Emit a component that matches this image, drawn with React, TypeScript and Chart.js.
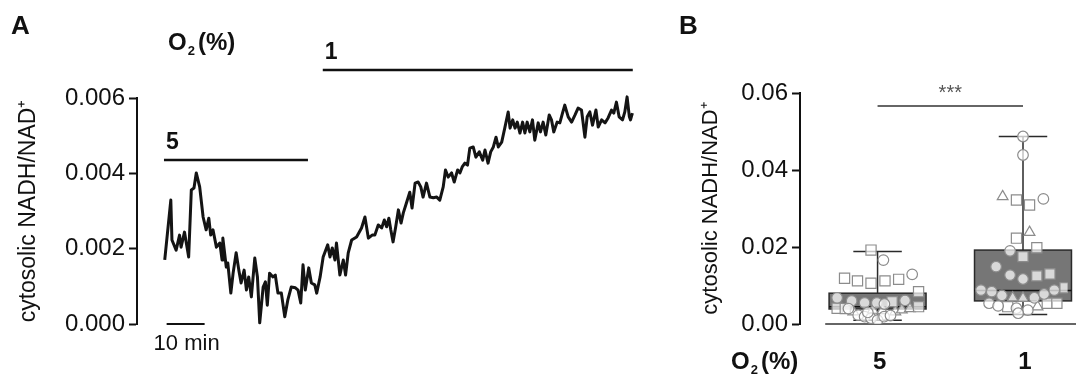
import React, { useEffect, useRef } from 'react';
import { Chart, registerables } from 'chart.js';

Chart.register(...registerables);

const FONT = '"Liberation Sans", Arial, Helvetica, sans-serif';
const INK = '#111111';

// ---------- Panel A: cytosolic NADH/NAD+ trace ----------
const traceMinutes = [
  0.2, 1.8, 2.1, 3.2, 4.1, 4.5, 5.4, 6.5, 7.2, 7.9,
  8.5, 9.4, 10.3, 11.1, 11.8, 12.3, 12.9, 13.8, 14.7, 15.3,
  15.5, 16.4, 16.8, 17.6, 18.2, 19.0, 19.7, 20.3, 21.1, 21.7,
  22.3, 23.0, 23.9, 24.6, 25.2, 26.1, 26.7, 27.2, 27.8, 28.7,
  29.3, 30.0, 30.9, 31.8, 32.6, 33.5, 34.6, 35.3, 36.0, 36.6,
  37.2, 38.1, 38.8, 39.7, 40.2, 41.1, 41.9, 43.1, 43.7, 44.3,
  45.0, 45.4, 46.3, 47.2, 47.8, 48.5, 49.4, 50.7, 52.0, 52.9,
  53.8, 54.8, 55.5, 56.4, 57.3, 58.0, 58.6, 59.2, 59.7, 60.3,
  61.0, 61.7, 62.4, 63.0, 63.9, 64.7, 65.3, 66.1, 66.9, 67.6,
  68.2, 69.1, 70.0, 70.9, 71.8, 72.6, 73.5, 74.1, 74.8, 75.7,
  76.4, 77.3, 77.9, 78.5, 79.2, 79.9, 80.5, 81.4, 82.1, 83.0,
  83.9, 84.5, 85.3, 86.0, 86.7, 87.4, 88.0, 88.9, 89.7, 90.6,
  91.1, 91.8, 92.4, 93.0, 93.7, 94.4, 95.0, 95.6, 96.3, 97.0,
  97.6, 98.5, 99.1, 99.8, 100.5, 101.4, 102.0, 102.6, 103.5, 104.2,
  104.9, 105.5, 106.4, 107.3, 108.2, 109.0, 109.9, 110.8, 111.4, 112.1,
  112.8, 113.7, 114.3, 115.2, 116.1, 116.9, 117.8, 118.4, 119.1, 119.8,
  120.7, 121.3, 121.9, 122.5, 122.8, 123.3,
];

const traceRatio = [
  0.00170, 0.00329, 0.00223, 0.00196, 0.00236, 0.00204, 0.00244, 0.00178, 0.00356, 0.00361,
  0.00401, 0.00364, 0.00284, 0.00250, 0.00281, 0.00236, 0.00250, 0.00204, 0.00215, 0.00170,
  0.00228, 0.00151, 0.00162, 0.00082, 0.00135, 0.00189, 0.00143, 0.00109, 0.00143, 0.00090,
  0.00125, 0.00072, 0.00175, 0.00125, 0.00003, 0.00098, 0.00112, 0.00050, 0.00135, 0.00125,
  0.00130, 0.00082, 0.00082, 0.00019, 0.00064, 0.00098, 0.00096, 0.00090, 0.00056, 0.00157,
  0.00090, 0.00149, 0.00109, 0.00104, 0.00082, 0.00125, 0.00178, 0.00210, 0.00178, 0.00202,
  0.00170, 0.00215, 0.00130, 0.00170, 0.00130, 0.00189, 0.00223, 0.00231, 0.00255, 0.00284,
  0.00228, 0.00236, 0.00236, 0.00263, 0.00255, 0.00276, 0.00258, 0.00281, 0.00250, 0.00218,
  0.00258, 0.00303, 0.00268, 0.00295, 0.00324, 0.00350, 0.00308, 0.00374, 0.00377, 0.00364,
  0.00337, 0.00374, 0.00337, 0.00335, 0.00337, 0.00329, 0.00364, 0.00409, 0.00390, 0.00401,
  0.00377, 0.00409, 0.00401, 0.00417, 0.00427, 0.00422, 0.00467, 0.00470, 0.00443, 0.00457,
  0.00435, 0.00462, 0.00427, 0.00457, 0.00470, 0.00496, 0.00470, 0.00483, 0.00520, 0.00563,
  0.00520, 0.00542, 0.00520, 0.00536, 0.00507, 0.00536, 0.00507, 0.00536, 0.00510, 0.00542,
  0.00488, 0.00534, 0.00510, 0.00536, 0.00502, 0.00555, 0.00542, 0.00510, 0.00536, 0.00534,
  0.00560, 0.00581, 0.00550, 0.00536, 0.00555, 0.00573, 0.00568, 0.00496, 0.00550, 0.00563,
  0.00528, 0.00568, 0.00523, 0.00542, 0.00534, 0.00547, 0.00568, 0.00560, 0.00589, 0.00550,
  0.00542, 0.00563, 0.00603, 0.00550, 0.00542, 0.00560,
];

const o2Levels = ['5', '1'];
const o2PeriodStart = [0, 41.8];
const o2PeriodEnd = [37.9, 123.4];
const scaleBarMinutes = 10;

// ---------- Panel B: box plot ----------
const categories = ['5', '1'];
const boxQ1 = [0.0039, 0.0060];
const boxMedian = [0.0045, 0.0087];
const boxQ3 = [0.0080, 0.0192];
const whiskerLow = [0.0010, 0.0025];
const whiskerHigh = [0.0188, 0.0487];

// [jitter (category units), value]
const circles5 = [
  [0.04, 0.0166], [0.238, 0.0129], [-0.278, 0.0068], [-0.178, 0.0060], [-0.089, 0.0055],
  [-0.005, 0.0055], [0.047, 0.0052], [0.189, 0.0061], [-0.2, 0.0040], [-0.133, 0.0023],
  [-0.089, 0.0019], [-0.045, 0.0015], [0, 0.0010], [0.045, 0.0019], [0.089, 0.0022],
  [-0.067, 0.0030],
];
const squares5 = [
  [-0.045, 0.0192], [-0.227, 0.0119], [-0.138, 0.0112], [-0.045, 0.0106], [0.051, 0.0112],
  [0.145, 0.0116], [0.282, 0.0084], [0.1, 0.0058], [-0.278, 0.0041], [0.282, 0.0045],
  [-0.222, 0.0040],
];
const triangles5 = [
  [-0.167, 0.0032], [-0.033, 0.0036], [0.033, 0.0035], [0.122, 0.0032], [0.167, 0.0037],
  [0.222, 0.0040],
];
const circles1 = [
  [0, 0.0487], [0, 0.0439], [0.14, 0.0325], [-0.089, 0.0190], [-0.185, 0.0149],
  [-0.089, 0.0127], [0, 0.0117], [-0.289, 0.0088], [-0.215, 0.0084], [-0.145, 0.0074],
  [0.078, 0.0068], [0.145, 0.0078], [0.215, 0.0088], [-0.233, 0.0054], [-0.171, 0.0047],
  [-0.045, 0.0041], [0.033, 0.0036], [-0.033, 0.0028],
];
const squares1 = [
  [-0.045, 0.0322], [0.045, 0.0309], [-0.045, 0.0223], [0.095, 0.0198], [0, 0.0175],
  [0.095, 0.0125], [0.185, 0.0130], [0.289, 0.0094], [-0.105, 0.0045], [0.167, 0.0054],
  [0.233, 0.0054],
];
const triangles1 = [
  [-0.14, 0.0331], [0.045, 0.0238], [-0.071, 0.0068], [0, 0.0067], [0.1, 0.0045],
];
const significance = '***';

function drawO2(ctx: CanvasRenderingContext2D, x: number, base: number, size: number) {
  ctx.textAlign = 'left';
  ctx.textBaseline = 'alphabetic';
  ctx.font = `bold ${size}px ${FONT}`;
  ctx.fillText('O', x, base);
  const w = ctx.measureText('O').width;
  const sub = Math.round(size * 0.55);
  ctx.font = `bold ${sub}px ${FONT}`;
  ctx.fillText('2', x + w + 1, base + size * 0.22);
  const w2 = ctx.measureText('2').width;
  ctx.font = `bold ${size}px ${FONT}`;
  ctx.fillText('(%)', x + w + w2 + 4, base);
}

function PanelA() {
  const ref = useRef<HTMLCanvasElement>(null);
  useEffect(() => {
    const canvas = ref.current;
    if (!canvas) return;
    const annot = {
      id: 'annotA',
      afterDraw(chart: any) {
        const { ctx, chartArea, scales } = chart;
        const xs = scales.x;
        const ys = scales.y;
        ctx.save();
        ctx.fillStyle = INK;
        ctx.strokeStyle = INK;
        ctx.textBaseline = 'alphabetic';
        ctx.textAlign = 'left';
        ctx.font = `bold 26px ${FONT}`;
        ctx.fillText('A', 11, 34);
        drawO2(ctx, 168, 50, 24);
        const levels = [chartArea.top + 62, chartArea.top - 28];
        o2Levels.forEach((lab, i) => {
          const x0 = xs.getPixelForValue(o2PeriodStart[i]);
          const x1 = xs.getPixelForValue(o2PeriodEnd[i]);
          ctx.lineWidth = 2.5;
          ctx.beginPath();
          ctx.moveTo(x0, levels[i]);
          ctx.lineTo(x1, levels[i]);
          ctx.stroke();
          ctx.font = `bold 23px ${FONT}`;
          ctx.textAlign = 'left';
          ctx.fillText(lab, x0 + 2, levels[i] - 11);
        });
        const sb0 = xs.getPixelForValue(0.7);
        const sb1 = xs.getPixelForValue(0.7 + scaleBarMinutes);
        const sy = ys.getPixelForValue(0);
        ctx.lineWidth = 2;
        ctx.beginPath();
        ctx.moveTo(sb0, sy);
        ctx.lineTo(sb1, sy);
        ctx.stroke();
        ctx.font = `22px ${FONT}`;
        ctx.textAlign = 'center';
        ctx.fillText(`${scaleBarMinutes} min`, (sb0 + sb1) / 2 + 1, sy + 26);
        ctx.restore();
      },
    };
    const chart = new Chart(canvas, {
      type: 'line',
      data: {
        datasets: [
          {
            data: traceMinutes.map((t, i) => ({ x: t, y: traceRatio[i] })),
            borderColor: '#141414',
            borderWidth: 3,
            borderJoinStyle: 'round',
            pointRadius: 0,
            tension: 0,
            fill: false,
            clip: 6,
          },
        ],
      },
      options: {
        responsive: false,
        animation: false,
        events: [],
        layout: { padding: { left: 0, right: 20, top: 98, bottom: 55 } },
        plugins: { legend: { display: false }, tooltip: { enabled: false } },
        scales: {
          x: { type: 'linear', display: false, min: -7.1, max: 125.3 },
          y: {
            min: 0,
            max: 0.006,
            ticks: {
              stepSize: 0.002,
              callback: (v: any) => Number(v).toFixed(3),
              font: { size: 24, family: FONT },
              color: INK,
              padding: 4,
            },
            grid: {
              display: true,
              drawOnChartArea: false,
              drawTicks: true,
              tickLength: 8,
              tickWidth: 2,
              tickColor: INK,
              color: INK,
            },
            border: { display: true, color: INK, width: 2 },
            title: {
              display: true,
              text: 'cytosolic NADH/NAD⁺',
              font: { size: 23, family: FONT },
              color: INK,
              padding: { top: 15, bottom: 0 },
            },
            afterFit: (scale: any) => {
              scale.width = 137;
            },
          },
        },
      },
      plugins: [annot],
    } as any);
    return () => chart.destroy();
  }, []);
  return (
    <canvas
      ref={ref}
      width={660}
      height={379}
      style={{ position: 'absolute', left: 0, top: 0, width: 660, height: 379 }}
    />
  );
}

function PanelB() {
  const ref = useRef<HTMLCanvasElement>(null);
  useEffect(() => {
    const canvas = ref.current;
    if (!canvas) return;
    const boxes = {
      id: 'boxesB',
      beforeDatasetsDraw(chart: any) {
        const { ctx, chartArea, scales } = chart;
        const xs = scales.x;
        const ys = scales.y;
        ctx.save();
        const by = ys.getPixelForValue(0);
        ctx.strokeStyle = '#333';
        ctx.lineWidth = 1.3;
        ctx.beginPath();
        ctx.moveTo(xs.getPixelForValue(0.64), by);
        ctx.lineTo(chartArea.right + 10, by);
        ctx.stroke();
        categories.forEach((_c, i) => {
          const c = i + 1;
          const cx = xs.getPixelForValue(c);
          const bl = xs.getPixelForValue(c - 1 / 3);
          const br = xs.getPixelForValue(c + 1 / 3);
          const cl = xs.getPixelForValue(c - 1 / 6);
          const cr = xs.getPixelForValue(c + 1 / 6);
          const yLo = ys.getPixelForValue(whiskerLow[i]);
          const yHi = ys.getPixelForValue(whiskerHigh[i]);
          const yQ1 = ys.getPixelForValue(boxQ1[i]);
          const yQ3 = ys.getPixelForValue(boxQ3[i]);
          const yMed = ys.getPixelForValue(boxMedian[i]);
          ctx.strokeStyle = '#2a2a2a';
          ctx.lineWidth = 1.5;
          ctx.beginPath();
          ctx.moveTo(cx, yLo);
          ctx.lineTo(cx, yHi);
          ctx.moveTo(cl, yLo);
          ctx.lineTo(cr, yLo);
          ctx.moveTo(cl, yHi);
          ctx.lineTo(cr, yHi);
          ctx.stroke();
          ctx.fillStyle = '#767676';
          ctx.fillRect(bl, yQ3, br - bl, yQ1 - yQ3);
          ctx.strokeRect(bl, yQ3, br - bl, yQ1 - yQ3);
          ctx.strokeStyle = '#111';
          ctx.lineWidth = 1.6;
          ctx.beginPath();
          ctx.moveTo(bl, yMed);
          ctx.lineTo(br, yMed);
          ctx.stroke();
        });
        ctx.restore();
      },
      afterDraw(chart: any) {
        const { ctx, chartArea, scales } = chart;
        const xs = scales.x;
        ctx.save();
        ctx.fillStyle = INK;
        ctx.strokeStyle = '#333';
        ctx.textBaseline = 'alphabetic';
        ctx.textAlign = 'left';
        ctx.font = `bold 26px ${FONT}`;
        ctx.fillText('B', 19, 34);
        // significance bar
        const sx0 = xs.getPixelForValue(1);
        const sx1 = xs.getPixelForValue(2);
        const sy = chartArea.top + 13;
        ctx.lineWidth = 1.3;
        ctx.beginPath();
        ctx.moveTo(sx0, sy);
        ctx.lineTo(sx1, sy);
        ctx.stroke();
        ctx.fillStyle = '#555';
        ctx.font = `20px ${FONT}`;
        ctx.textAlign = 'center';
        ctx.fillText(significance, (sx0 + sx1) / 2, chartArea.top + 6);
        // category labels
        ctx.fillStyle = INK;
        ctx.font = `bold 24px ${FONT}`;
        categories.forEach((c, i) => {
          ctx.textAlign = 'center';
          ctx.fillText(c, xs.getPixelForValue(i + 1) + 2, 369);
        });
        drawO2(ctx, 71, 369, 24);
        ctx.restore();
      },
    };
    const pts = (arr: number[][], c: number) => arr.map(([dx, v]) => ({ x: c + dx, y: v }));
    const style = {
      backgroundColor: 'rgba(255,255,255,0.72)',
      borderColor: '#8c8c8c',
      borderWidth: 1.2,
    };
    const chart = new Chart(canvas, {
      type: 'scatter',
      data: {
        datasets: [
          { data: [...pts(circles5, 1), ...pts(circles1, 2)], pointStyle: 'circle', pointRadius: 5.3, ...style },
          { data: [...pts(squares5, 1), ...pts(squares1, 2)], pointStyle: 'rect', pointRadius: 7.2, ...style },
          { data: [...pts(triangles5, 1), ...pts(triangles1, 2)], pointStyle: 'triangle', pointRadius: 6.2, ...style },
        ],
      },
      options: {
        responsive: false,
        animation: false,
        events: [],
        layout: { padding: { left: 0, right: 0, top: 93, bottom: 55 } },
        plugins: { legend: { display: false }, tooltip: { enabled: false } },
        scales: {
          x: { type: 'linear', display: false, min: 1 - 80 / 150, max: 2 + 46 / 150 },
          y: {
            min: 0,
            max: 0.06,
            ticks: {
              stepSize: 0.02,
              callback: (v: any) => Number(v).toFixed(2),
              font: { size: 24, family: FONT },
              color: INK,
              padding: 4,
            },
            grid: {
              display: true,
              drawOnChartArea: false,
              drawTicks: true,
              tickLength: 8,
              tickWidth: 2,
              tickColor: INK,
              color: INK,
            },
            border: { display: true, color: INK, width: 2 },
            title: {
              display: true,
              text: 'cytosolic NADH/NAD⁺',
              font: { size: 22, family: FONT },
              color: INK,
              padding: { top: 38, bottom: 0 },
            },
            afterFit: (scale: any) => {
              scale.width = 140;
            },
          },
        },
      },
      plugins: [boxes],
    } as any);
    return () => chart.destroy();
  }, []);
  return (
    <canvas
      ref={ref}
      width={416}
      height={379}
      style={{ position: 'absolute', left: 660, top: 0, width: 416, height: 379 }}
    />
  );
}

export default function App() {
  return (
    <div style={{ position: 'absolute', left: 0, top: 0, width: 1076, height: 379, background: '#fff', overflow: 'hidden' }}>
      <PanelA />
      <PanelB />
    </div>
  );
}
